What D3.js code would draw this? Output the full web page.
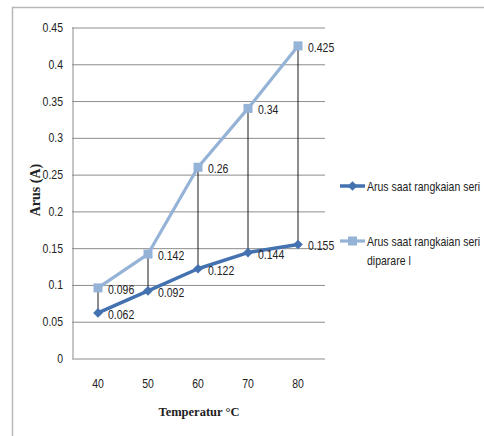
<!DOCTYPE html>
<html>
<head>
<meta charset="utf-8">
<script src="https://cdn.jsdelivr.net/npm/d3@7/dist/d3.min.js"></script>
<style>
  html, body { margin: 0; padding: 0; background: #fff; }
  svg { display: block; }
  text { font-family: "Liberation Sans", Arial, sans-serif; fill: #222; }
  .serif { font-family: "Liberation Serif", "Times New Roman", serif; font-weight: bold; }
</style>
</head>
<body>
<svg id="chart" width="484" height="436"></svg>
<script>
// Temperature categories (°C)
const temperatures = [40, 50, 60, 70, 80];
// Current in series circuit (A)
const seriesCurrent = [0.062, 0.092, 0.122, 0.144, 0.155];
// Current in series circuit connected in parallel (A)
const parallelCurrent = [0.096, 0.142, 0.26, 0.34, 0.425];
// Y axis ticks
const yTicks = [0, 0.05, 0.1, 0.15, 0.2, 0.25, 0.3, 0.35, 0.4, 0.45];
const seriesNames = ["Arus saat rangkaian seri", ["Arus saat rangkaian seri", "diparare l"]];

const svg = d3.select("#chart");
const NARROW = 0.84;   // horizontal squeeze for a condensed look
const FS = 12.5;

// Condensed text placed at (px, py) with the given anchor
function narrowText(parent, px, py, str, anchor) {
  const g = parent.append("g").attr("transform", `translate(${px},${py}) scale(${NARROW},1)`);
  g.append("text").attr("text-anchor", anchor || "start").attr("font-size", FS).text(str);
  return g;
}

// Outer chart frame
svg.append("path")
  .attr("d", "M12.5,436 L12.5,7.5 L484,7.5")
  .attr("fill", "none").attr("stroke", "#b8b8b8").attr("stroke-width", 1.5);

const plot = { left: 73, right: 323, top: 27.5, bottom: 358.5 };

const x = d3.scaleBand().domain(temperatures).range([plot.left, plot.right]);
const xc = d => x(d) + x.bandwidth() / 2;
const y = d3.scaleLinear().domain([0, 0.45]).range([plot.bottom, plot.top]);

// Horizontal gridlines (drawn by the axis), labels replaced with condensed text
const yAxis = d3.axisLeft(y).tickValues(yTicks).tickSize(-(plot.right - plot.left) - 2).tickFormat("");
const gy = svg.append("g").attr("transform", `translate(${plot.left},0)`).call(yAxis);
gy.select(".domain").remove();
gy.selectAll(".tick line").attr("stroke", "#8c8c8c").attr("stroke-width", 1).attr("x1", -1);
yTicks.forEach(t => {
  narrowText(svg, plot.left - 10, y(t) + 4.5, t === 0 ? "0" : String(+t.toFixed(2)), "end");
});

// Vertical axis line
svg.append("line")
  .attr("x1", plot.left).attr("x2", plot.left)
  .attr("y1", plot.top).attr("y2", plot.bottom)
  .attr("stroke", "#8c8c8c");

// X axis labels
temperatures.forEach(t => narrowText(svg, xc(t), 387.5, String(t), "middle"));

// Axis titles
svg.append("text").attr("class", "serif")
  .attr("x", 199).attr("y", 416).attr("text-anchor", "middle").attr("font-size", 12.5)
  .text("Temperatur  °C");
svg.append("text").attr("class", "serif")
  .attr("transform", "translate(40,190) rotate(-90)")
  .attr("text-anchor", "middle").attr("font-size", 14)
  .text("Arus (A)");

// High-low connector lines between the two series
svg.append("g").selectAll("line").data(temperatures).join("line")
  .attr("x1", d => xc(d)).attr("x2", d => xc(d))
  .attr("y1", (d, i) => y(parallelCurrent[i]))
  .attr("y2", (d, i) => y(seriesCurrent[i]))
  .attr("stroke", "#1a1a1a").attr("stroke-width", 1);

const darkBlue = "#4472b0";
const lightBlue = "#95b3d7";

const line = d3.line().x((d, i) => xc(temperatures[i])).y(d => y(d));

// Parallel series line and square markers
svg.append("path").datum(parallelCurrent)
  .attr("d", line).attr("fill", "none")
  .attr("stroke", lightBlue).attr("stroke-width", 3.2).attr("stroke-linejoin", "round");
svg.append("g").selectAll("rect").data(parallelCurrent).join("rect")
  .attr("x", (d, i) => xc(temperatures[i]) - 4.5)
  .attr("y", d => y(d) - 4.5)
  .attr("width", 9).attr("height", 9)
  .attr("fill", lightBlue);

// Series line and diamond markers
svg.append("path").datum(seriesCurrent)
  .attr("d", line).attr("fill", "none")
  .attr("stroke", darkBlue).attr("stroke-width", 3.5).attr("stroke-linejoin", "round");
const diamond = d3.symbol().type(d3.symbolDiamond2).size(60);
svg.append("g").selectAll("path").data(seriesCurrent).join("path")
  .attr("d", diamond)
  .attr("transform", (d, i) => `translate(${xc(temperatures[i])},${y(d)})`)
  .attr("fill", darkBlue);

// Data labels
function labels(values) {
  values.forEach((d, i) => narrowText(svg, xc(temperatures[i]) + 10, y(d) + 6, String(d)));
}
labels(parallelCurrent);
labels(seriesCurrent);

// Legend
const lg = svg.append("g");
lg.append("line").attr("x1", 340).attr("x2", 365).attr("y1", 186).attr("y2", 186)
  .attr("stroke", darkBlue).attr("stroke-width", 3.5);
lg.append("path").attr("d", diamond).attr("transform", "translate(352.5,186)").attr("fill", darkBlue);
narrowText(lg, 367, 190.5, seriesNames[0]);

lg.append("line").attr("x1", 340).attr("x2", 365).attr("y1", 241).attr("y2", 241)
  .attr("stroke", lightBlue).attr("stroke-width", 3.2);
lg.append("rect").attr("x", 348).attr("y", 236.5).attr("width", 9).attr("height", 9).attr("fill", lightBlue);
narrowText(lg, 367, 245.5, seriesNames[1][0]);
narrowText(lg, 367, 264.5, seriesNames[1][1]);
</script>
</body>
</html>
